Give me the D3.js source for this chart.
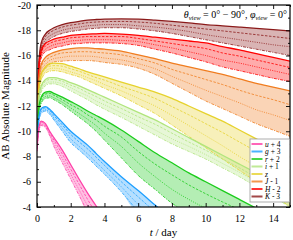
<!DOCTYPE html>
<html>
<head>
<meta charset="utf-8">
<script src="https://cdn.jsdelivr.net/npm/d3@7"></script>
<style>
body { margin: 0; background: #fff; }
svg text { font-family: "Liberation Serif", "DejaVu Serif", serif; }
</style>
</head>
<body>
<div id="chart"></div>
<script>
// time grid (days) shared by every band
var days = [0, 0.1, 0.25, 0.5, 0.75, 1, 1.5, 2, 2.5, 3, 3.5, 4, 5, 6, 7, 8, 9, 10, 11, 12, 13, 14, 15];

// legend order, top to bottom
var bandLetters = ["u", "g", "r", "i", "z", "J", "H", "K"];
var bandOffsets = [" + 4", " + 3", " + 2", " + 1", "", " - 1", " - 2", " - 3"];

// bright edge (solid line), one list per band
var edgeBright = [
  [-8.6, -10.2, -10.8, -10.6, -10.0, -9.5, -8.5, -7.35, -6.2, -5.1, -4.1, -3.1],
  [-8.8, -11.0, -11.8, -11.95, -11.75, -11.4, -10.7, -10.0, -9.45, -8.9, -8.25, -7.6, -6.4, -5.3, -4.15, -3.0],
  [-9.0, -11.8, -12.7, -13.1, -13.15, -13.0, -12.7, -12.35, -12.0, -11.6, -11.25, -10.9, -10.1, -9.2, -8.3, -7.5, -6.7, -6.0, -5.3, -4.6, -3.9, -3.2],
  [-9.2, -12.5, -13.6, -14.1, -14.25, -14.25, -14.1, -13.85, -13.6, -13.3, -13.0, -12.7, -12.1, -11.5, -10.9, -10.2, -9.5, -8.8, -8.1, -7.4, -6.7, -6.0, -5.3],
  [-9.4, -13.2, -14.5, -15.1, -15.35, -15.4, -15.35, -15.15, -14.95, -14.7, -14.5, -14.3, -13.9, -13.5, -13.1, -12.6, -12.0, -11.4, -10.8, -10.1, -9.4, -8.7, -8.0],
  [-9.6, -14.0, -15.3, -15.85, -16.1, -16.25, -16.45, -16.55, -16.6, -16.6, -16.55, -16.5, -16.35, -16.05, -15.75, -15.4, -15.1, -14.8, -14.5, -14.15, -13.8, -13.5, -13.2],
  [-9.8, -15.0, -16.4, -16.95, -17.15, -17.3, -17.45, -17.6, -17.65, -17.7, -17.72, -17.75, -17.7, -17.6, -17.45, -17.3, -17.15, -17.0, -16.7, -16.45, -16.15, -15.85, -15.55],
  [-10.0, -15.2, -17.0, -17.7, -18.0, -18.2, -18.45, -18.6, -18.7, -18.8, -18.85, -18.88, -18.9, -18.88, -18.8, -18.7, -18.58, -18.45, -18.35, -18.25, -18.15, -18.05, -17.95]
];

// dashed line inside each band
var dashed = [
  [-8.55, -10.1, -10.7, -10.5, -9.9, -9.3, -8.2, -7.0, -5.8, -4.6, -3.5],
  [-8.75, -10.9, -11.7, -11.85, -11.65, -11.25, -10.5, -9.75, -9.15, -8.6, -7.95, -7.3, -6.0, -4.8, -3.6],
  [-8.95, -11.65, -12.55, -12.95, -13.0, -12.85, -12.5, -12.1, -11.75, -11.3, -10.9, -10.4, -9.55, -8.4, -7.4, -6.55, -5.75, -5.05, -4.4, -3.8],
  [-9.15, -12.35, -13.45, -13.95, -14.1, -14.1, -13.95, -13.65, -13.4, -13.05, -12.75, -12.4, -11.8, -11.15, -10.55, -9.85, -9.15, -8.5, -7.8, -7.1, -6.35, -5.65, -4.9],
  [-9.35, -13.05, -14.35, -14.95, -15.15, -15.2, -15.15, -14.95, -14.75, -14.5, -14.25, -14.05, -13.55, -13.1, -12.6, -11.95, -11.3, -10.6, -9.9, -9.15, -8.4, -7.6, -6.8],
  [-9.55, -13.8, -15.1, -15.6, -15.85, -16.0, -16.2, -16.25, -16.3, -16.3, -16.25, -16.2, -16.05, -15.75, -15.4, -14.9, -14.5, -14.1, -13.7, -13.25, -12.85, -12.5, -12.1],
  [-9.75, -14.8, -16.2, -16.75, -16.95, -17.1, -17.25, -17.4, -17.45, -17.5, -17.5, -17.5, -17.5, -17.35, -17.15, -16.95, -16.75, -16.55, -16.2, -15.95, -15.65, -15.35, -15.05],
  [-9.95, -15.0, -16.75, -17.5, -17.8, -18.0, -18.25, -18.4, -18.5, -18.6, -18.65, -18.68, -18.7, -18.65, -18.55, -18.4, -18.25, -18.1, -17.95, -17.8, -17.65, -17.5, -17.35]
];

// dotted line inside each band
var dotted = [
  [-8.45, -10.0, -10.55, -10.4, -9.75, -9.05, -7.85, -6.6, -5.35, -4.1, -3.0],
  [-8.65, -10.75, -11.55, -11.7, -11.5, -11.05, -10.25, -9.4, -8.8, -8.2, -7.55, -6.9, -5.6, -4.2, -3.0],
  [-8.85, -11.5, -12.35, -12.75, -12.8, -12.65, -12.3, -11.85, -11.4, -10.95, -10.45, -9.85, -8.8, -7.5, -6.4, -5.4, -4.6, -3.9],
  [-9.05, -12.15, -13.25, -13.75, -13.9, -13.9, -13.75, -13.45, -13.1, -12.8, -12.4, -12.1, -11.45, -10.8, -10.1, -9.4, -8.8, -8.15, -7.45, -6.75, -6.0, -5.2, -4.45],
  [-9.25, -12.85, -14.15, -14.75, -14.95, -15.0, -14.9, -14.7, -14.5, -14.25, -14.0, -13.7, -13.2, -12.6, -12.0, -11.25, -10.45, -9.65, -8.85, -8.0, -7.2, -6.3, -5.4],
  [-9.45, -13.6, -14.85, -15.3, -15.6, -15.75, -15.85, -15.95, -15.95, -15.95, -15.9, -15.8, -15.65, -15.35, -14.95, -14.35, -13.8, -13.25, -12.75, -12.25, -11.7, -11.3, -10.85],
  [-9.65, -14.55, -16.0, -16.5, -16.7, -16.85, -17.0, -17.15, -17.2, -17.25, -17.25, -17.25, -17.2, -17.1, -16.85, -16.6, -16.3, -16.0, -15.65, -15.4, -15.1, -14.8, -14.5],
  [-9.85, -14.75, -16.5, -17.25, -17.55, -17.75, -18.0, -18.15, -18.25, -18.35, -18.4, -18.45, -18.45, -18.35, -18.25, -18.1, -17.9, -17.65, -17.45, -17.25, -17.05, -16.85, -16.7]
];

// faint edge (dash-dot line); missing values lie below the plotted range
var edgeFaint = [
  [-8.4, -9.9, -10.45, -10.3, -9.65, -8.8, -7.5, -6.2, -4.9, -3.6],
  [-8.6, -10.6, -11.4, -11.6, -11.35, -10.9, -10.0, -9.1, -8.5, -7.9, -7.25, -6.6, -5.2, -3.6],
  [-8.8, -11.3, -12.2, -12.6, -12.65, -12.5, -12.1, -11.6, -11.1, -10.6, -10.0, -9.3, -7.9, -6.5, -5.4, -4.3, -3.5],
  [-9.0, -12.0, -13.1, -13.6, -13.75, -13.75, -13.55, -13.2, -12.85, -12.5, -12.1, -11.75, -11.1, -10.4, -9.7, -9.0, -8.4, -7.8, -7.1, -6.4, -5.6, -4.8, -4.0],
  [-9.2, -12.7, -14.0, -14.6, -14.75, -14.8, -14.7, -14.5, -14.3, -14.0, -13.7, -13.4, -12.8, -12.1, -11.4, -10.5, -9.6, -8.7, -7.8, -6.9, -6.0, -5.0, -4.0],
  [-9.4, -13.4, -14.6, -15.0, -15.3, -15.5, -15.55, -15.6, -15.6, -15.6, -15.55, -15.45, -15.3, -15.0, -14.5, -13.8, -13.1, -12.4, -11.8, -11.2, -10.6, -10.1, -9.6],
  [-9.6, -14.3, -15.8, -16.3, -16.45, -16.6, -16.75, -16.9, -16.95, -17.0, -17.0, -17.0, -16.95, -16.8, -16.5, -16.2, -15.85, -15.5, -15.1, -14.8, -14.5, -14.2, -13.95],
  [-9.8, -14.5, -16.2, -17.0, -17.3, -17.5, -17.75, -17.9, -18.0, -18.1, -18.15, -18.2, -18.2, -18.1, -17.95, -17.75, -17.5, -17.25, -17.0, -16.75, -16.5, -16.25, -16.0]
];

var colors = ["#ff3fa8", "#1e9fff", "#1ccc1c", "#b0e57c", "#e6d22d", "#f07d20", "#ff0000", "#8b1a1a"];

var margin = {top: 5, left: 37},
    width = 253,
    height = 202;

var x = d3.scaleLinear().domain([0, 15]).range([0, width]);
var y = d3.scaleLinear().domain([-20, -4]).range([0, height]);

var svg = d3.select("#chart").append("svg")
    .attr("width", 293)
    .attr("height", 240)
  .append("g")
    .attr("transform", "translate(" + margin.left + "," + margin.top + ")");

svg.append("clipPath").attr("id", "clip")
  .append("rect").attr("width", width).attr("height", height);

var plot = svg.append("g").attr("clip-path", "url(#clip)");

function series(arr) {
  return days.map(function(t, i) { return {t: t, m: i < arr.length ? arr[i] : null}; });
}

var area = d3.area()
    .curve(d3.curveMonotoneX)
    .x(function(d) { return x(d.t); })
    .y0(function(d) { return d.lo == null ? height + 2 : y(d.lo); })
    .y1(function(d) { return y(d.hi); });

var line = d3.line()
    .curve(d3.curveMonotoneX)
    .defined(function(d) { return d.m != null; })
    .x(function(d) { return x(d.t); })
    .y(function(d) { return y(d.m); });

// fills first (red/K at the back)
for (var b = colors.length - 1; b >= 0; b--) {
  var band = edgeBright[b].map(function(v, i) {
    return {t: days[i], hi: v, lo: i < edgeFaint[b].length ? edgeFaint[b][i] : null};
  });
  plot.append("path")
    .datum(band)
    .attr("d", area)
    .style("fill", colors[b])
    .style("fill-opacity", b == 3 ? 0.3 : 0.33)
    .style("stroke", "none");
}

var styles = [
  {arr: edgeFaint, dash: "3,1.2,1,1.2", w: 0.8},
  {arr: dotted, dash: "1,1.3", w: 0.8},
  {arr: dashed, dash: "2.5,1.5", w: 0.8},
  {arr: edgeBright, dash: null, w: 1.3}
];
for (var b2 = colors.length - 1; b2 >= 0; b2--) {
  styles.forEach(function(s) {
    plot.append("path")
      .datum(series(s.arr[b2]))
      .attr("d", line)
      .style("fill", "none")
      .style("stroke", colors[b2])
      .style("stroke-width", s.w)
      .style("stroke-dasharray", s.dash);
  });
}

// axes, ticks inward on all four sides
var xMajor = d3.range(0, 15, 2), xMinor = d3.range(1, 16, 2);
var yMajor = d3.range(-20, -3, 2), yMinor = d3.range(-19, -4, 2);

function axisG(gen, tr) {
  var g = svg.append("g").attr("transform", tr).call(gen);
  g.select(".domain").remove();
  g.selectAll("line").style("stroke", "#000").style("stroke-width", 0.9);
  g.selectAll("text").style("font-size", "10px").style("fill", "#000")
    .style("font-family", "'Liberation Serif', serif");
  return g;
}

axisG(d3.axisBottom(x).tickValues(xMajor).tickSizeInner(-4).tickSizeOuter(0).tickPadding(8), "translate(0," + height + ")");
axisG(d3.axisBottom(x).tickValues(xMinor).tickSizeInner(-2).tickSizeOuter(0).tickFormat(""), "translate(0," + height + ")");
axisG(d3.axisTop(x).tickValues(xMajor).tickSizeInner(-4).tickSizeOuter(0).tickFormat(""), "translate(0,0)");
axisG(d3.axisTop(x).tickValues(xMinor).tickSizeInner(-2).tickSizeOuter(0).tickFormat(""), "translate(0,0)");
axisG(d3.axisLeft(y).tickValues(yMajor).tickSizeInner(-4).tickSizeOuter(0).tickPadding(6)
  .tickFormat(function(d) { return String(d); }), "translate(0,0)");
axisG(d3.axisLeft(y).tickValues(yMinor).tickSizeInner(-2).tickSizeOuter(0).tickFormat(""), "translate(0,0)");
axisG(d3.axisRight(y).tickValues(yMajor).tickSizeInner(-4).tickSizeOuter(0).tickFormat(""), "translate(" + width + ",0)");
axisG(d3.axisRight(y).tickValues(yMinor).tickSizeInner(-2).tickSizeOuter(0).tickFormat(""), "translate(" + width + ",0)");

svg.append("rect")
    .attr("width", width)
    .attr("height", height)
    .style("fill", "none")
    .style("stroke", "#000")
    .style("stroke-width", 1.2);

// axis titles
var xt = svg.append("text")
    .attr("x", width / 2)
    .attr("y", height + 29)
    .attr("text-anchor", "middle")
    .style("font-size", "11px");
xt.append("tspan").style("font-style", "italic").text("t");
xt.append("tspan").text(" / day");

svg.append("text")
    .attr("transform", "translate(-28," + (height / 2) + ") rotate(-90)")
    .attr("text-anchor", "middle")
    .style("font-size", "11px")
    .text("AB Absolute Magnitude");

// viewing angle note
var ann = svg.append("text")
    .attr("x", width - 3)
    .attr("y", 13)
    .attr("text-anchor", "end")
    .style("font-size", "10px");
ann.append("tspan").style("font-style", "italic").text("θ");
ann.append("tspan").attr("dy", 2).style("font-size", "6.5px").style("font-style", "italic").text("view");
ann.append("tspan").attr("dy", -2).text(" = 0° − 90°, ");
ann.append("tspan").style("font-style", "italic").text("φ");
ann.append("tspan").attr("dy", 2).style("font-size", "6.5px").style("font-style", "italic").text("view");
ann.append("tspan").attr("dy", -2).text(" = 0°");

// legend
var lg = svg.append("g").attr("transform", "translate(213,134)");
lg.append("rect")
    .attr("width", 39.5)
    .attr("height", 63)
    .style("fill", "#fff")
    .style("stroke", "#999")
    .style("stroke-width", 0.8);
bandLetters.forEach(function(l, i) {
  var yy = 5 + i * 7.5;
  lg.append("line")
    .attr("x1", 1.5).attr("x2", 12.5)
    .attr("y1", yy).attr("y2", yy)
    .style("stroke", colors[i])
    .style("stroke-opacity", 0.8)
    .style("stroke-width", 2);
  var t = lg.append("text")
    .attr("x", 15)
    .attr("y", yy + 2.5)
    .style("font-size", "7.5px");
  t.append("tspan").style("font-style", "italic").text(l);
  t.append("tspan").text(bandOffsets[i]);
});
</script>
</body>
</html>
